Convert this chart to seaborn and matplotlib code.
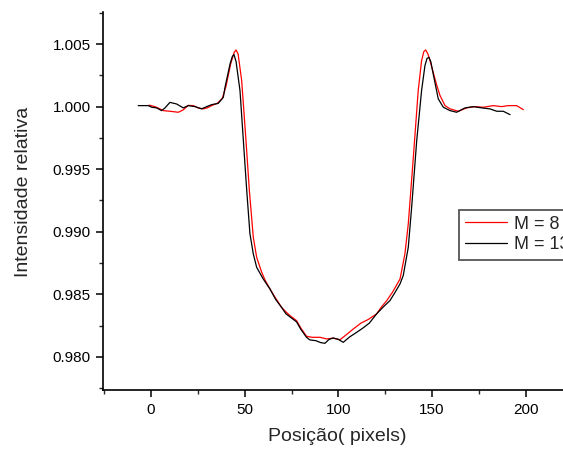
import numpy as np
import pandas as pd
import matplotlib
matplotlib.use("Agg")
import matplotlib.pyplot as plt
import seaborn as sns
from matplotlib.ticker import MultipleLocator

# ---- data ----
x_m8 = [-1, 2.1, 4.8, 6.6, 10.1, 14.6, 17.2, 19.9, 22.6, 25.2, 27.9, 30, 32.4, 35.3, 38,
        40, 42.5, 44.3, 45.4, 46.5, 48.4, 50.7, 52.5, 54.6, 56.4, 59.1, 61, 63.5, 66.5,
        69.7, 72, 74.2, 77.7, 80, 83, 86, 90.2, 93.8, 97, 100.9, 104, 108, 112, 116,
        120.4, 123, 125.8, 129, 132.9, 135.5, 137.3, 140, 142.6, 144.4, 145.6, 146.6,
        147.8, 148.9, 152.5, 154.2, 156.9, 159.6, 164, 168.5, 172.9, 177.3, 182.7,
        187.1, 190.7, 195.1, 198.7]
y_m8 = [1.00012, 1.0, 0.99982, 0.99968, 0.99963, 0.99955, 0.99974, 1.0001, 1.00008, 0.9999,
        0.99982, 0.9999, 1.00008, 1.00026, 1.00064,
        1.0016, 1.0034, 1.0043, 1.00453, 1.0042, 1.00208, 0.99728, 0.99329, 0.98956,
        0.98796, 0.98676, 0.9861, 0.98543, 0.9847,
        0.98396, 0.9836, 0.9833, 0.9829, 0.9823, 0.98165, 0.98157, 0.98157, 0.98144,
        0.9815, 0.98138, 0.98175, 0.98224, 0.9827, 0.983,
        0.98344, 0.984, 0.9845, 0.9852, 0.98623, 0.98823, 0.99063, 0.99595, 1.00128,
        1.00367, 1.0044, 1.00453,
        1.0042, 1.00367, 1.0017, 1.0009, 1.00008, 0.99982, 0.99963, 0.9999, 1.0,
        0.99995, 1.00008,
        1.0, 1.00008, 1.00008, 0.99976]

x_m13 = [-6.8, -1.4, 0.4, 3, 5.7, 7.5, 10.1, 13.7, 17.2, 19.9, 23.5, 27, 29.7, 32.4, 35.9,
         38.6, 39.5, 42.2, 43.4, 44.3, 45.4, 47.5, 49.3, 51.1, 52.8, 54.6, 56.4, 59.9,
         63.5, 66.5, 69.7, 72, 74.2, 77.7, 80, 83, 84.8, 88, 90.5, 92.8, 95, 97.3, 100,
         102.6, 106, 109.8, 113, 116.5, 120.4, 124, 127.5, 130, 132.9, 134.6, 137.3,
         139.1, 141.8, 144.4, 146.2, 147.3, 148.3, 149.3, 150.6, 153.3, 156, 159.6,
         163.1, 167.6, 172, 176.4, 180.9, 184.5, 188, 191.6]
y_m13 = [1.00008, 1.00008, 0.99995, 0.9999, 0.99968, 0.9999, 1.00034, 1.00021, 0.9999,
         1.00008, 1.0, 0.99982, 1.0, 1.00016, 1.00026,
         1.00074, 1.00154, 1.00341, 1.004, 1.00416, 1.0036, 1.00128, 0.99728, 0.99329,
         0.98985, 0.98823, 0.98716, 0.98623,
         0.98543, 0.9846, 0.98396, 0.98345, 0.9832, 0.9828, 0.9822, 0.98157, 0.98136,
         0.9813, 0.98115, 0.98109, 0.9814, 0.98152, 0.9814,
         0.98117, 0.9816, 0.98197, 0.9823, 0.9827, 0.98344, 0.984, 0.9845, 0.9851,
         0.98584, 0.9865, 0.98876,
         0.99196, 0.99728, 1.00128, 1.00328, 1.00385, 1.00394, 1.0036, 1.00261, 1.00062,
         0.99995, 0.99968,
         0.99955, 0.9999, 1.0, 0.9999, 0.99982, 0.99963, 0.99963, 0.99936]

labels = ["M = 8", "M = 13"]
colors = ["#ff0000", "#000000"]

df = pd.concat([
    pd.DataFrame({"x": x_m8, "y": y_m8, "serie": labels[0]}),
    pd.DataFrame({"x": x_m13, "y": y_m13, "serie": labels[1]}),
], ignore_index=True)

sns.set_style("ticks")
plt.rcParams["font.family"] = ["Liberation Sans", "DejaVu Sans"]

fig = plt.figure(figsize=(5.63, 4.5), dpi=100)
ax = fig.add_axes([103 / 563, 60 / 450, 479 / 563, 378 / 450])

sns.lineplot(data=df, x="x", y="y", hue="serie", palette=colors, sort=False,
             estimator=None, linewidth=0.9, ax=ax, legend=True)

ax.set_xlim(-25.6, 230)
ax.set_ylim(0.97736, 1.00756)
ax.xaxis.set_major_locator(MultipleLocator(50))
ax.xaxis.set_minor_locator(MultipleLocator(25))
ax.yaxis.set_major_locator(MultipleLocator(0.005))
ax.yaxis.set_minor_locator(MultipleLocator(0.0025))
ax.yaxis.set_major_formatter(matplotlib.ticker.FormatStrFormatter("%.3f"))

for s in ["top", "right"]:
    ax.spines[s].set_visible(False)
for s in ["left", "bottom"]:
    ax.spines[s].set_linewidth(1.2)
    ax.spines[s].set_color("black")
ax.tick_params(which="major", direction="out", length=5, width=1.1, labelsize=11,
               colors="black", pad=4)
ax.tick_params(which="minor", direction="out", length=3, width=1.0)

ax.set_xlabel("Posição( pixels)", fontsize=14)
ax.set_ylabel("Intensidade relativa", fontsize=14)
ax.xaxis.set_label_coords((337 - 103) / 479, -0.1)
ax.yaxis.set_label_coords(-(103 - 32) / 479, (390 - 192) / 378)

handles, labs = ax.get_legend_handles_labels()
leg = ax.legend(handles, labs, loc="upper left",
                bbox_to_anchor=(459 / 563, 1 - 209.5 / 450), bbox_transform=fig.transFigure,
                fontsize=13, frameon=True, fancybox=False, framealpha=1,
                edgecolor="#555555", handlelength=2.3, handletextpad=0.4,
                borderpad=0.35, labelspacing=0.2, borderaxespad=0)
leg.get_frame().set_linewidth(1.3)
for line in leg.get_lines():
    line.set_linewidth(0.9)

fig.savefig("out.png", dpi=100)
